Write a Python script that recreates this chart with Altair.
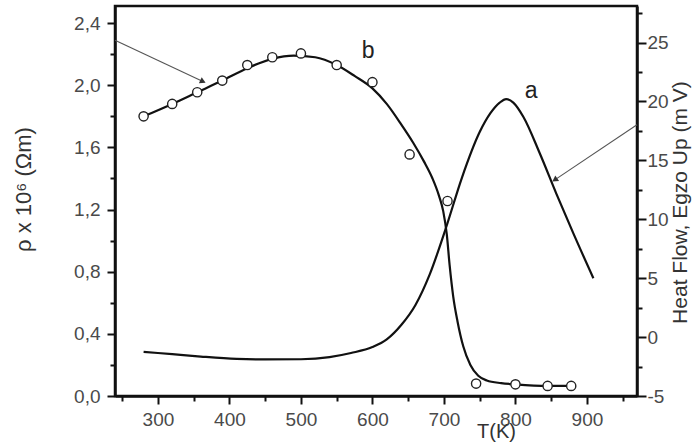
import altair as alt
import pandas as pd

# ---- data ----
# curve b: resistivity (left axis), fitted line
T_b_line = [280, 320, 355, 390, 425, 460, 490, 520, 550, 575, 600, 620, 640, 657, 672, 684,
            693, 699, 704, 708, 713, 719, 727, 737, 748, 760, 780, 800, 845, 878]
rho_b_line = [1.80, 1.88, 1.955, 2.03, 2.11, 2.17, 2.19, 2.18, 2.13, 2.06, 1.98, 1.88, 1.75,
              1.63, 1.51, 1.40, 1.29, 1.19, 1.04, 0.84, 0.64, 0.48, 0.32, 0.20, 0.13, 0.10,
              0.083, 0.075, 0.065, 0.065]
# curve b: measured points (open circles)
T_b_pts = [280, 320, 355, 390, 425, 460, 500, 550, 600, 652, 705, 745, 800, 845, 878]
rho_b_pts = [1.80, 1.88, 1.955, 2.03, 2.13, 2.18, 2.205, 2.13, 2.02, 1.555, 1.255, 0.08,
             0.075, 0.065, 0.065]
# curve a: heat flow (right axis)
T_a = [280, 320, 360, 410, 450, 500, 540, 570, 600, 620, 640, 660, 680, 703, 725, 750, 765,
       778, 787, 797, 811, 834, 857, 881, 909]
hf_a = [-1.25, -1.45, -1.65, -1.85, -1.9, -1.88, -1.7, -1.35, -0.85, -0.2, 1.0, 2.7, 5.3,
        9.3, 13.5, 17.4, 19.0, 19.9, 20.2, 19.9, 18.7, 15.6, 12.2, 8.8, 5.0]

# curve labels
label_text = ["b", "a"]
label_T = [594, 822]
label_rho = [2.22, 1.96]

# arrows (in T / rho coordinates)
arrow_T0 = [240, 970]
arrow_r0 = [2.29, 1.746]
arrow_T1 = [363, 855]
arrow_r1 = [2.024, 1.391]

# tick values
x_ticks = [250, 300, 350, 400, 450, 500, 550, 600, 650, 700, 750, 800, 850, 900, 950]
left_ticks = [0, 0.2, 0.4, 0.6, 0.8, 1.0, 1.2, 1.4, 1.6, 1.8, 2.0, 2.2, 2.4]
right_ticks = [-5, -2.5, 0, 2.5, 5, 7.5, 10, 12.5, 15, 17.5, 20, 22.5, 25, 27.5]

FONT = "Liberation Sans"
LBL = "#4a4a4a"

df_bline = pd.DataFrame({"T": T_b_line, "rho": rho_b_line})
df_bpts = pd.DataFrame({"T": T_b_pts, "rho": rho_b_pts})
df_a = pd.DataFrame({"T": T_a, "hf": hf_a})
df_lbl = pd.DataFrame({"T": label_T, "rho": label_rho, "txt": label_text})
df_arr = pd.DataFrame({"T0": arrow_T0, "r0": arrow_r0, "T1": arrow_T1, "r1": arrow_r1})

xscale = alt.Scale(domain=[240, 970], nice=False, zero=False)
x_axis = alt.Axis(
    values=x_ticks,
    title="T(K)",
    labelExpr="datum.value % 100 == 0 ? datum.label : ''",
    tickSize={"condition": {"test": "datum.value % 100 == 0", "value": 8}, "value": 5},
    labelPadding=6,
    titleX=381, titleY=25, titleBaseline="top", titleFontSize=20,
)


def X(field="T"):
    return alt.X(f"{field}:Q", scale=xscale, axis=x_axis)


lscale = alt.Scale(domain=[0, 2.51], nice=False, zero=False)
l_axis = alt.Axis(
    orient="left",
    values=left_ticks,
    title="ρ x 10⁶ (Ωm)",
    labelExpr="round(datum.value*10) % 4 == 0 ? replace(format(datum.value, '.1f'), '.', ',') : ''",
    tickSize={"condition": {"test": "round(datum.value*10) % 4 == 0", "value": 8}, "value": 5},
    labelPadding=7,
    titleAngle=270, titleX=-92, titleY=183, titleBaseline="middle", titleAlign="center",
    titleFontSize=22,
)


def YL(field="rho"):
    return alt.Y(f"{field}:Q", scale=lscale, axis=l_axis)


rscale = alt.Scale(domain=[-5, 28.1], nice=False, zero=False)
r_axis = alt.Axis(
    orient="right",
    values=right_ticks,
    title="Heat Flow, Egzo Up (m V)",
    labelExpr="datum.value % 5 == 0 ? ('' + datum.value) : ''",
    tickSize={"condition": {"test": "datum.value % 5 == 0", "value": 9}, "value": 5},
    labelPadding=1,
    titleAngle=270, titleX=43, titleY=196, titleBaseline="middle", titleAlign="center",
    titleFontSize=21,
)

b_line = alt.Chart(df_bline).mark_line(
    color="#111111", strokeWidth=2.2, interpolate="monotone"
).encode(x=X(), y=YL())

b_pts = alt.Chart(df_bpts).mark_point(
    shape="circle", filled=True, fill="white", stroke="#222222", strokeWidth=1.4, size=85, opacity=1
).encode(x=X(), y=YL())

labels = alt.Chart(df_lbl).mark_text(
    font=FONT, fontSize=23, color="#222222", align="center", baseline="middle"
).encode(x=X(), y=YL(), text="txt:N")

arrows = alt.Chart(df_arr).mark_rule(color="#555555", strokeWidth=1.1).encode(
    x=X("T0"), y=YL("r0"), x2="T1:Q", y2="r1:Q"
)

head1 = alt.Chart(df_arr.iloc[[0]]).mark_point(
    shape="triangle-right", filled=True, color="#333333", size=45, angle=25, opacity=1
).encode(x=X("T1"), y=YL("r1"))

head2 = alt.Chart(df_arr.iloc[[1]]).mark_point(
    shape="triangle-right", filled=True, color="#333333", size=45, angle=146, opacity=1
).encode(x=X("T1"), y=YL("r1"))

left_layer = alt.layer(arrows, head1, head2, b_line, b_pts, labels)

a_line = alt.Chart(df_a).mark_line(
    color="#111111", strokeWidth=2.2, interpolate="monotone"
).encode(x=X(), y=alt.Y("hf:Q", scale=rscale, axis=r_axis))

chart = (
    alt.layer(left_layer, a_line)
    .resolve_scale(y="independent")
    .properties(
        width=522,
        height=390,
        autosize=alt.AutoSizeParams(type="none"),
        padding={"left": 115, "top": 6, "right": 61, "bottom": 46},
        background="white",
    )
    .configure_axis(
        labelFont=FONT,
        labelFontSize=19,
        labelColor=LBL,
        titleFont=FONT,
        titleColor="#333333",
        titleFontWeight="normal",
        domainColor="#111111",
        domainWidth=2.5,
        tickColor="#111111",
        tickWidth=2,
        grid=False,
    )
    .configure_axisLeft(titleFontSize=22)
    .configure_axisRight(titleFontSize=21)
    .configure_axisBottom(titleFontSize=20)
    .configure_view(stroke="#111111", strokeWidth=2.5)
)

chart.save("out.html", embed_options={"renderer": "svg", "actions": False})
